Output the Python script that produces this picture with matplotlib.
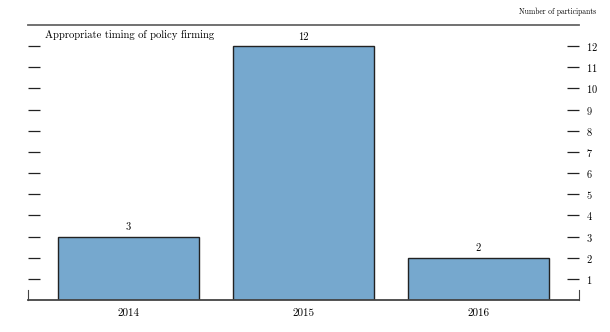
import matplotlib
matplotlib.use("Agg")
import matplotlib.pyplot as plt

# data
years = ['2014', '2015', '2016']
participants = [3, 12, 2]
yticks = list(range(1, 13))

plt.rcParams['font.family'] = ['cmr10', 'DejaVu Serif']
plt.rcParams['axes.formatter.use_mathtext'] = True

fig = plt.figure(figsize=(6.1, 3.32), dpi=100)
ax = fig.add_axes([28 / 610, 32 / 332, 551 / 610, 275 / 332])

x = range(len(years))
bars = ax.bar(x, participants, width=0.806, color='#76a8ce', edgecolor='#222222', linewidth=1.0)
for xi, v in zip(x, participants):
    ax.text(xi, v + 0.2, str(v), ha='center', va='bottom', fontsize=7.5)

ax.set_xlim(-0.574, 2.574)
ax.set_ylim(0, 13)
ax.set_xticks(list(x))
ax.set_xticklabels(years, fontsize=8)
ax.tick_params(axis='x', length=0, pad=6)

ax.set_yticks(yticks)
ax.tick_params(axis='y', direction='in', length=8.6, width=0.9, color='#222222',
               left=True, right=True, labelleft=False, labelright=True,
               labelsize=7.5, pad=5)

# spines: top line, bottom line, small stubs at the corners
ax.spines['top'].set_color('#666666')
ax.spines['top'].set_linewidth(1.3)
ax.spines['bottom'].set_color('#444444')
ax.spines['bottom'].set_linewidth(1.3)
ax.spines['left'].set_bounds(0, 0.47)
ax.spines['right'].set_bounds(0, 0.47)
ax.spines['left'].set_color('#444444')
ax.spines['right'].set_color('#444444')

ax.text(0.031, 0.98, 'Appropriate timing of policy firming', transform=ax.transAxes,
        ha='left', va='top', fontsize=7.7)
fig.text(596 / 610, 1 - 12 / 332, 'Number of participants', ha='right', va='center', fontsize=5.5)

plt.savefig('out.png', dpi=100)
